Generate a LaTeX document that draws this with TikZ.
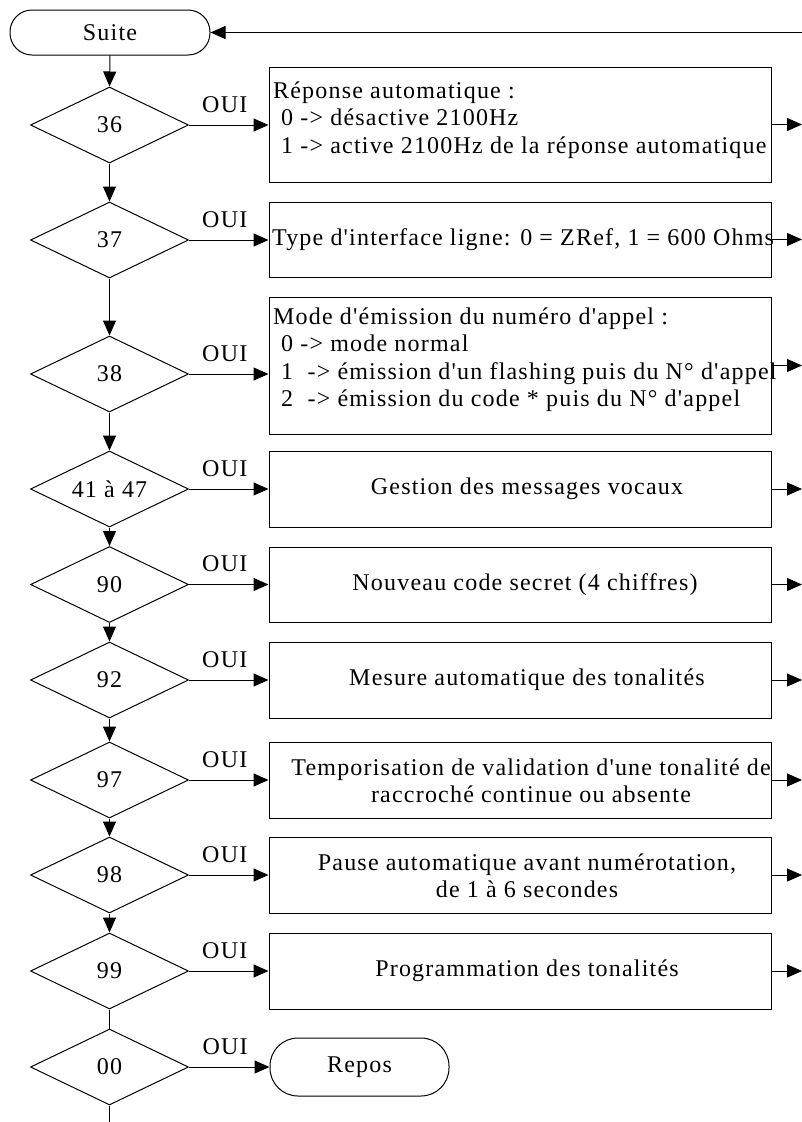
\documentclass[tikz,border=0pt]{standalone}
\usepackage{fontspec}
\newfontfamily\ff[LetterSpace=5]{Liberation Serif}
\usetikzlibrary{shapes.geometric,arrows.meta}
\begin{document}
\begin{tikzpicture}[x=1pt,y=-1pt,
  every node/.style={font=\ff\fontsize{24}{27.5}\selectfont},
  arr/.style={line width=1pt,-{Triangle[length=15pt,width=13pt]}},
  ln/.style={line width=1pt},
  dec/.style={draw,line width=1pt,diamond,aspect=2.08,minimum width=158pt,minimum height=76pt,inner sep=0pt},
  box/.style={draw,line width=1pt,rectangle,minimum width=502pt,inner sep=0pt},
  term/.style={draw,line width=1pt,rectangle,inner sep=0pt},
  lt/.style={anchor=base west,inner sep=0pt},
  ct/.style={align=center,inner sep=0pt},
  oui/.style={anchor=base,yshift=13pt,pos=0.45,inner sep=0pt}]
\useasboundingbox (0,0) rectangle (802,1122);

% terminals
\node[term,rounded corners=22pt,minimum width=200pt,minimum height=45pt] (suite) at (110,32.5) {Suite};
\node[term,rounded corners=28pt,minimum width=179pt,minimum height=58pt] (repos) at (359.5,1067) {Repos};

% decisions
\node[dec] (d36) at (109.5,125) {36};
\node[dec] (d37) at (109.5,240) {37};
\node[dec] (d38) at (109.5,374) {38};
\node[dec] (d41) at (109.5,489) {41 à 47};
\node[dec] (d90) at (109.5,584.5) {90};
\node[dec] (d92) at (109.5,680) {92};
\node[dec] (d97) at (109.5,780) {97};
\node[dec] (d98) at (109.5,875) {98};
\node[dec] (d99) at (109.5,971) {99};
\node[dec] (d00) at (109.5,1067) {00};

% boxes
\node[box,minimum height=115pt] (b36) at (520,124.5) {};
\node[box,minimum height=75pt] (b37) at (520,239.5) {};
\node[box,minimum height=137pt] (b38) at (520,365.5) {};
\node[box,minimum height=76pt] (b41) at (520,489) {};
\node[box,minimum height=75pt] (b90) at (520,584.5) {};
\node[box,minimum height=76pt] (b92) at (520,680) {};
\node[box,minimum height=76pt] (b97) at (520,780) {};
\node[box,minimum height=76pt] (b98) at (520,875) {};
\node[box,minimum height=76pt] (b99) at (520,971) {};

% box texts
\node[lt] (t36a) at (273,98) {Réponse automatique :};
\node[lt] (t36b) at (281,125.5) {0 -> désactive 2100Hz};
\node[lt] (t36c) at (281,153) {1 -> active 2100Hz de la réponse automatique};
\node[ct] (t37) at (523,240) {Type d'interface ligne: 0 = ZRef, 1 = 600 Ohms};
\node[lt] (t38a) at (273,324) {Mode d'émission du numéro d'appel :};
\node[lt] (t38b) at (281,351.5) {0 -> mode normal};
\node[lt] (t38c) at (281,379) {1\ \ -> émission d'un flashing puis du N° d'appel};
\node[lt] (t38d) at (281,406.5) {2\ \ -> émission du code * puis du N° d'appel};
\node[ct] (t41) at (527,489) {Gestion des messages vocaux};
\node[ct] (t90) at (525,584.5) {Nouveau code secret (4 chiffres)};
\node[ct] (t92) at (527,680) {Mesure automatique des tonalités};
\node[ct] (t97) at (531,781) {Temporisation de validation d'une tonalité de\\raccroché continue ou absente};
\node[ct] (t98) at (527,876) {Pause automatique avant numérotation,\\de 1 à 6 secondes};
\node[ct] (t99) at (527,971) {Programmation des tonalités};

% free ends
\coordinate (ret) at (802,32.5);
\coordinate (o36) at (802,124.5);
\coordinate (o37) at (802,239.5);
\coordinate (o38) at (802,365.5);
\coordinate (o41) at (802,489);
\coordinate (o90) at (802,584.5);
\coordinate (o92) at (802,680);
\coordinate (o97) at (802,780);
\coordinate (o98) at (802,875);
\coordinate (o99) at (802,971);
\coordinate (bot) at (109.5,1122);

% return arrow
\draw[arr] (ret) -- (suite.east);

% vertical flow
\draw[arr] (suite.south) -- (d36.north);
\draw[arr] (d36.south) -- (d37.north);
\draw[arr] (d37.south) -- (d38.north);
\draw[arr] (d38.south) -- (d41.north);
\draw[arr] (d41.south) -- (d90.north);
\draw[arr] (d90.south) -- (d92.north);
\draw[arr] (d92.south) -- (d97.north);
\draw[arr] (d97.south) -- (d98.north);
\draw[arr] (d98.south) -- (d99.north);
\draw[ln] (d99.south) -- (d00.north);
\draw[ln] (d00.south) -- (bot);

% OUI branches
\draw[arr] (d36.east) -- node[oui]{OUI} (d36.east -| b36.west);
\draw[arr] (d37.east) -- node[oui]{OUI} (d37.east -| b37.west);
\draw[arr] (d38.east) -- node[oui]{OUI} (d38.east -| b38.west);
\draw[arr] (d41.east) -- node[oui]{OUI} (d41.east -| b41.west);
\draw[arr] (d90.east) -- node[oui]{OUI} (d90.east -| b90.west);
\draw[arr] (d92.east) -- node[oui]{OUI} (d92.east -| b92.west);
\draw[arr] (d97.east) -- node[oui]{OUI} (d97.east -| b97.west);
\draw[arr] (d98.east) -- node[oui]{OUI} (d98.east -| b98.west);
\draw[arr] (d99.east) -- node[oui]{OUI} (d99.east -| b99.west);
\draw[arr] (d00.east) -- node[oui]{OUI} (repos.west);

% outputs
\draw[arr] (b36.east) -- (o36);
\draw[arr] (b37.east) -- (o37);
\draw[arr] (b38.east) -- (o38);
\draw[arr] (b41.east) -- (o41);
\draw[arr] (b90.east) -- (o90);
\draw[arr] (b92.east) -- (o92);
\draw[arr] (b97.east) -- (o97);
\draw[arr] (b98.east) -- (o98);
\draw[arr] (b99.east) -- (o99);
\end{tikzpicture}
\end{document}
